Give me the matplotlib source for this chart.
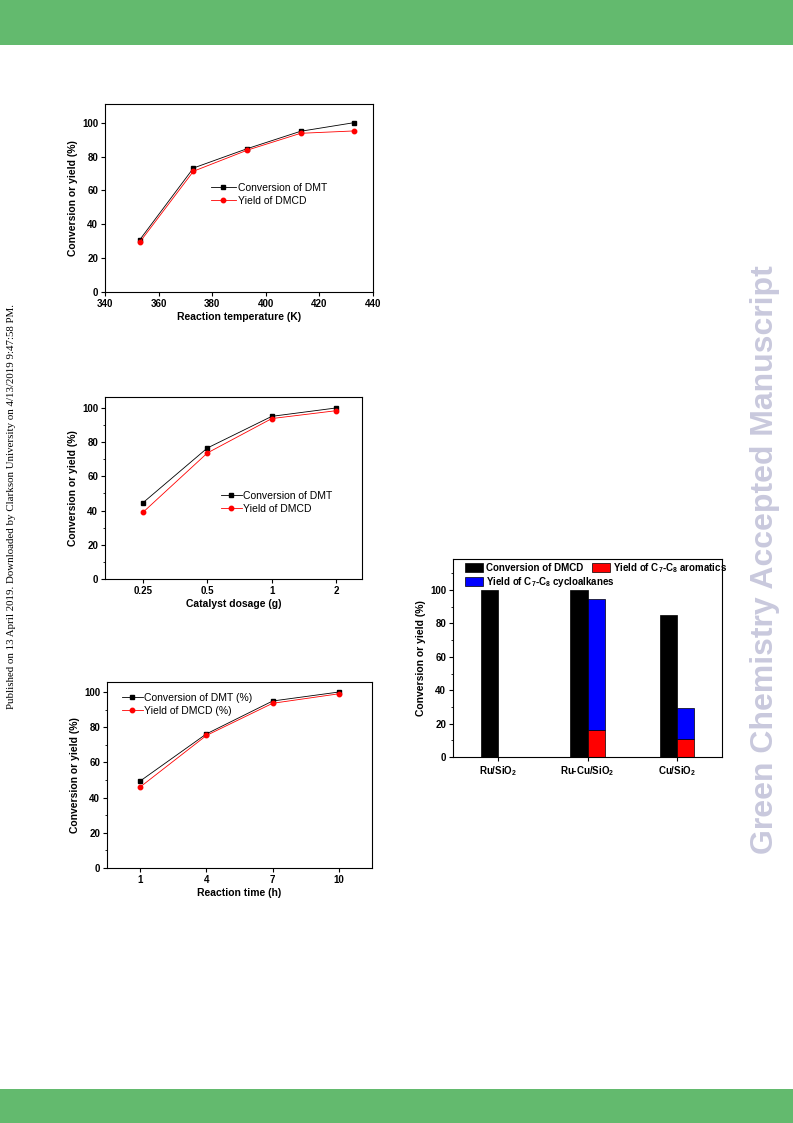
import matplotlib
matplotlib.use("Agg")
import matplotlib.pyplot as plt
from matplotlib.patches import Rectangle, Patch
from matplotlib.lines import Line2D
from matplotlib.ticker import MultipleLocator

plt.rcParams['font.family'] = ['Liberation Sans', 'DejaVu Sans']
plt.rcParams['mathtext.fontset'] = 'custom'
plt.rcParams['mathtext.rm'] = 'Liberation Sans'
plt.rcParams['mathtext.bf'] = 'Liberation Sans:bold'
plt.rcParams['axes.linewidth'] = 0.8

# ---------------- data ----------------
temp_K = [353, 373, 393, 413, 433]
temp_conv_DMT = [30.9, 73.2, 84.6, 94.9, 100.0]
temp_yield_DMCD = [29.5, 71.3, 83.7, 93.7, 95.1]

dosage_labels = ['0.25', '0.5', '1', '2']
dosage_conv_DMT = [44.6, 76.6, 95.1, 100.0]
dosage_yield_DMCD = [39.0, 73.7, 93.8, 98.4]

time_h = [1, 4, 7, 10]
time_conv_DMT = [49.4, 76.2, 94.9, 100.0]
time_yield_DMCD = [46.0, 75.3, 93.6, 99.0]

catalysts = ['Ru/SiO$_\\mathbf{2}$', 'Ru-Cu/SiO$_\\mathbf{2}$', 'Cu/SiO$_\\mathbf{2}$']
conv_DMCD = [100.0, 100.0, 85.2]
yield_aromatics = [0.0, 16.2, 10.5]
yield_cycloalkanes = [0.0, 78.3, 19.0]

W, H = 793, 1123
fig = plt.figure(figsize=(W / 100, H / 100), dpi=100)

def ax_px(x0, y0, x1, y1):
    return fig.add_axes([x0 / W, 1 - y1 / H, (x1 - x0) / W, (y1 - y0) / H])

GREEN = '#63BA6E'
fig.patches.append(Rectangle((0, 1 - 45 / H), 1, 45 / H, transform=fig.transFigure,
                             facecolor=GREEN, edgecolor='none', zorder=0))
fig.patches.append(Rectangle((0, 0), 1, (H - 1089) / H, transform=fig.transFigure,
                             facecolor=GREEN, edgecolor='none', zorder=0))

TICK_FS = 7
LAB_FS = 7.5
LEG_FS = 7.5

def style(ax, minor=False):
    ax.tick_params(axis='both', which='major', direction='out', length=3, width=0.8,
                   labelsize=TICK_FS, pad=2)
    ax.tick_params(axis='both', which='minor', direction='out', length=1.8, width=0.6)
    for lab in ax.get_xticklabels() + ax.get_yticklabels():
        lab.set_fontweight('bold')
    ax.set_ylabel('Conversion or yield (%)', fontsize=LAB_FS, fontweight='bold', labelpad=3)
    if minor:
        ax.yaxis.set_minor_locator(MultipleLocator(10))

def lines(ax, x, a, b):
    ax.plot(x, a, color='black', lw=0.6, marker='s', ms=3.2, mec='black', mfc='black', zorder=3)
    ax.plot(x, b, color='red', lw=0.6, marker='o', ms=3.2, mec='red', mfc='red', zorder=3)

def legend(ax, labels, anchor, hl):
    h = [Line2D([], [], color='black', lw=0.6, marker='s', ms=3.2),
         Line2D([], [], color='red', lw=0.6, marker='o', ms=3.2)]
    ax.legend(h, labels, loc='upper left', bbox_to_anchor=anchor, frameon=False,
              fontsize=LEG_FS, handlelength=hl, handletextpad=0.15, borderpad=0,
              borderaxespad=0, labelspacing=0.25)

# ---- top: reaction temperature ----
ax1 = ax_px(105, 104, 373, 292)
lines(ax1, temp_K, temp_conv_DMT, temp_yield_DMCD)
ax1.set_xlim(340, 440)
ax1.set_ylim(0, 111)
ax1.set_xticks([340, 360, 380, 400, 420, 440])
ax1.set_yticks([0, 20, 40, 60, 80, 100])
ax1.set_xlabel('Reaction temperature (K)', fontsize=LAB_FS, fontweight='bold', labelpad=2)
style(ax1)
legend(ax1, ['Conversion of DMT', 'Yield of DMCD'], ((211 - 105) / 268, (292 - 183) / 188), 2.4)

# ---- middle: catalyst dosage ----
ax2 = ax_px(105, 397, 362, 579)
xi = list(range(len(dosage_labels)))
lines(ax2, xi, dosage_conv_DMT, dosage_yield_DMCD)
ax2.set_xlim(-0.59, 3.4)
ax2.set_ylim(0, 106.4)
ax2.set_xticks(xi)
ax2.set_xticklabels(dosage_labels)
ax2.set_yticks([0, 20, 40, 60, 80, 100])
ax2.set_xlabel('Catalyst dosage (g)', fontsize=LAB_FS, fontweight='bold', labelpad=2)
style(ax2, minor=True)
legend(ax2, ['Conversion of DMT', 'Yield of DMCD'], ((221 - 105) / 257, (579 - 491) / 182), 2.0)

# ---- bottom: reaction time ----
ax3 = ax_px(107, 682, 372, 868)
lines(ax3, time_h, time_conv_DMT, time_yield_DMCD)
ax3.set_xlim(-0.5, 11.5)
ax3.set_ylim(0, 105.7)
ax3.set_xticks(time_h)
ax3.set_yticks([0, 20, 40, 60, 80, 100])
ax3.set_xlabel('Reaction time (h)', fontsize=LAB_FS, fontweight='bold', labelpad=2)
style(ax3, minor=True)
legend(ax3, ['Conversion of DMT (%)', 'Yield of DMCD (%)'], ((122 - 107) / 265, (868 - 693) / 186), 2.0)

# ---- bar chart ----
ax4 = ax_px(453, 559, 722, 757)
pos = list(range(len(catalysts)))
bw = 0.19
ax4.bar([p - bw / 2 for p in pos], conv_DMCD, width=bw, color='black', edgecolor='black', lw=0.5)
ax4.bar([p + bw / 2 for p in pos], yield_aromatics, width=bw, color='red', edgecolor='black', lw=0.5)
ax4.bar([p + bw / 2 for p in pos], yield_cycloalkanes, width=bw, bottom=yield_aromatics,
        color='blue', edgecolor='black', lw=0.5)
ax4.set_xlim(-0.5, 2.5)
ax4.set_ylim(0, 118.6)
ax4.set_xticks(pos)
ax4.set_xticklabels(catalysts)
ax4.set_yticks([0, 20, 40, 60, 80, 100])
style(ax4, minor=True)
legkw = dict(loc='upper left', frameon=False, prop={'size': 7, 'weight': 'bold'},
             handlelength=1.9, handleheight=1.0, handletextpad=0.25, borderpad=0,
             borderaxespad=0)
lg1 = ax4.legend([Patch(facecolor='black', edgecolor='black', lw=0.5),
                  Patch(facecolor='red', edgecolor='black', lw=0.5)],
                 ['Conversion of DMCD', 'Yield of C$_\\mathbf{7}$-C$_\\mathbf{8}$ aromatics'],
                 ncol=2, columnspacing=0.9,
                 bbox_to_anchor=((465 - 453) / 269, (757 - 561) / 198), **legkw)
ax4.add_artist(lg1)
ax4.legend([Patch(facecolor='blue', edgecolor='black', lw=0.5)],
           ['Yield of C$_\\mathbf{7}$-C$_\\mathbf{8}$ cycloalkanes'],
           bbox_to_anchor=((465 - 453) / 269, (757 - 575) / 198), **legkw)

# ---- side texts ----
fig.text(765 / W, 1 - 560 / H, 'Green Chemistry Accepted Manuscript', rotation=90,
         ha='center', va='center', fontsize=23, fontweight='bold', color='#C9C9DD')
fig.text(12 / W, 1 - 506 / H,
         'Published on 13 April 2019. Downloaded by Clarkson University on 4/13/2019 9:47:58 PM.',
         rotation=90, ha='center', va='center', fontsize=7.8, family='Liberation Serif', color='black')

fig.savefig('out.png', dpi=100)
